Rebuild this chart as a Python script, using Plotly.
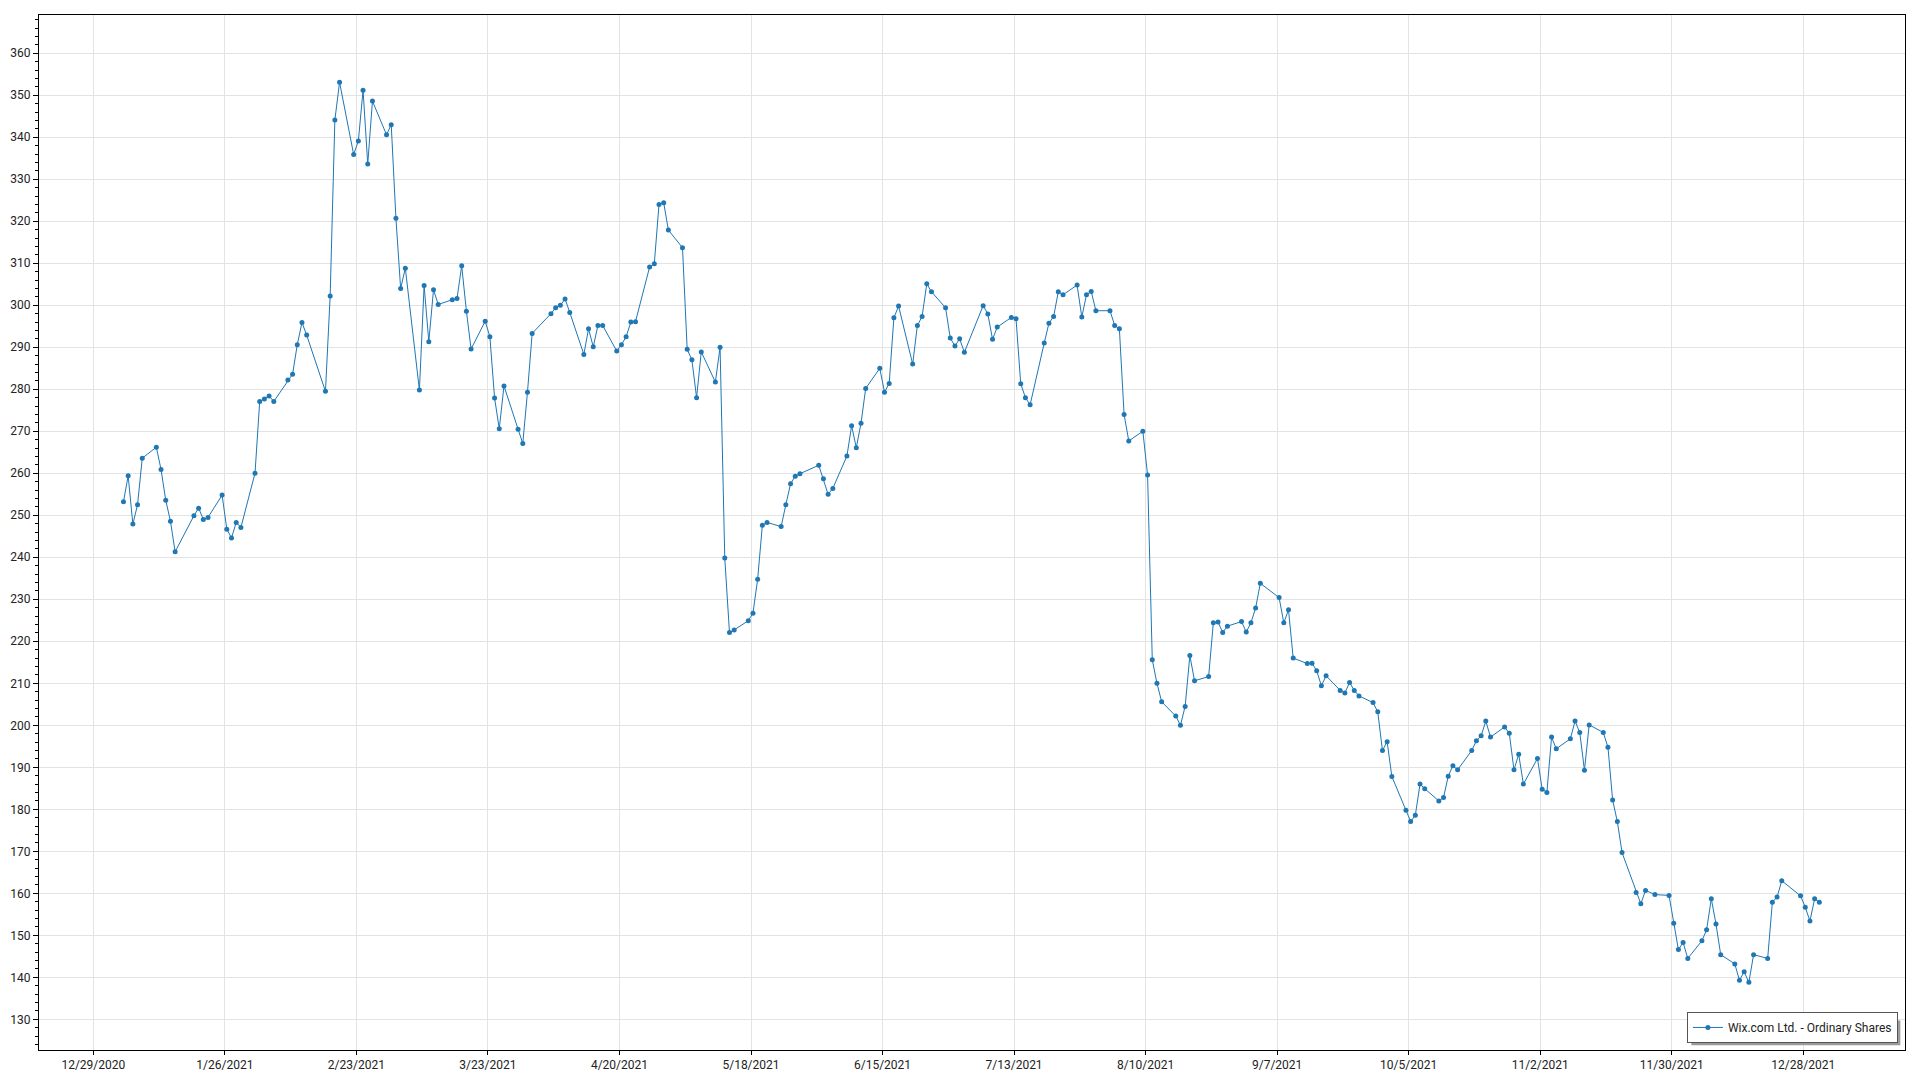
import pandas as pd
import plotly.graph_objects as go

# ---- data -------------------------------------------------------------
series_name = "Wix.com Ltd. - Ordinary Shares"

market_holidays_2021 = ["2021-01-01", "2021-01-18", "2021-02-15", "2021-04-02",
                        "2021-05-31", "2021-07-05", "2021-09-06", "2021-11-25",
                        "2021-12-24"]

jan = [253.2, 259.4, 247.9, 252.5, 263.6, 266.2, 260.9, 253.6, 248.6, 241.3,
       249.9, 251.7, 249.0, 249.5, 254.8, 246.7, 244.6, 248.3, 247.1]
feb = [260.0, 277.1, 277.7, 278.4, 277.1, 282.2, 283.6, 290.6, 295.9, 292.9,
       279.5, 302.2, 344.1, 353.1, 335.9, 339.1, 351.2, 333.6, 348.6]
mar = [340.6, 343.0, 320.7, 304.0, 308.8, 279.8, 304.7, 291.3, 303.7, 300.2,
       301.3, 301.6, 309.4, 298.6, 289.6, 296.2, 292.5, 277.9, 270.6, 280.8,
       270.5, 267.1, 279.3]
apr = [293.3, 298.0, 299.4, 300.0, 301.5, 298.3, 288.3, 294.4, 290.1, 295.2,
       295.2, 289.1, 290.6, 292.5, 296.0, 296.1, 309.1, 309.9, 324.0, 324.4,
       317.9]
may = [313.7, 289.5, 287.0, 278.0, 288.9, 281.7, 290.0, 239.8, 222.1, 222.7,
       224.9, 226.7, 234.8, 247.6, 248.3, 247.3, 252.5, 257.5, 259.3, 259.9]
jun = [261.9, 258.7, 255.0, 256.4, 264.1, 271.3, 266.1, 271.9, 280.2, 285.0,
       279.3, 281.4, 297.0, 299.8, 286.0, 295.2, 297.3, 305.1, 303.2, 299.4,
       292.2, 290.3]
jul = [292.0, 288.8, 299.9, 297.9, 291.9, 294.8, 297.1, 296.8, 281.3, 278.0,
       276.3, 291.0, 295.7, 297.3, 303.2, 302.5, 304.8, 297.2, 302.5, 303.3,
       298.7]
aug = [298.7, 295.2, 294.4, 274.0, 267.7, 270.0, 259.6, 215.6, 210.0, 205.6,
       202.2, 200.0, 204.5, 216.6, 210.6, 211.6, 224.4, 224.6, 222.1, 223.6,
       224.7, 222.2]
sep = [224.4, 227.9, 233.8, 230.4, 224.4, 227.5, 216.0, 214.7, 214.8, 213.0,
       209.4, 211.8, 208.3, 207.7, 210.2, 208.3, 207.0, 205.4, 203.2, 194.0,
       196.1]
oct_ = [187.8, 179.8, 177.1, 178.6, 186.0, 184.9, 182.0, 182.8, 187.9, 190.4,
        189.4, 194.0, 196.3, 197.5, 201.0, 197.2, 199.6, 198.1, 189.4, 193.1,
        186.0]
nov = [192.1, 184.8, 184.0, 197.2, 194.4, 196.8, 201.0, 198.3, 189.3, 200.1,
       198.3, 194.8, 182.2, 177.1, 169.7, 160.2, 157.5, 160.7, 159.7, 159.5,
       152.9]
dec = [146.6, 148.3, 144.5, 148.7, 151.3, 158.7, 152.7, 145.4, 143.2, 139.3,
       141.3, 138.8, 145.4, 144.5, 157.9, 159.1, 163.0, 159.4, 156.7, 153.4,
       158.7, 157.9]

prices = jan + feb + mar + apr + may + jun + jul + aug + sep + oct_ + nov + dec

trading_days = pd.bdate_range("2021-01-01", "2021-12-31", freq="C",
                              holidays=market_holidays_2021)
# timestamps carry an intraday hour in the source
dates = trading_days + pd.Timedelta(hours=10)
assert len(dates) == len(prices), (len(dates), len(prices))

# ---- figure -----------------------------------------------------------
FONT = "Roboto, Noto Sans, DejaVu Sans, sans-serif"
BLUE = "#1f77b4"
GRID = "#e3e3e3"

fig = go.Figure()
fig.add_trace(go.Scatter(
    x=dates, y=prices, mode="lines+markers", name=series_name,
    line=dict(color=BLUE, width=1),
    marker=dict(color=BLUE, size=5),
    showlegend=True,
))

# soft drop shadow behind the legend box (paper coordinates)
fig.add_shape(type="rect", xref="paper", yref="paper", layer="above",
              x0=0.8855, x1=0.9975, y0=0.0045, y1=0.0285,
              fillcolor="#9a9a9a", line=dict(width=0))

fig.update_layout(
    width=1920, height=1080,
    margin=dict(l=39, r=15, t=15, b=30, autoexpand=False),
    paper_bgcolor="white", plot_bgcolor="white",
    font=dict(family=FONT, size=12, color="#222222"),
    showlegend=True,
    legend=dict(
        x=0.9962, y=0.0068, xanchor="right", yanchor="bottom",
        bgcolor="white", bordercolor="#555555", borderwidth=1,
        itemwidth=30,
        font=dict(family=FONT, size=12, color="#222222"),
    ),
)

fig.update_xaxes(
    type="date", automargin=False,
    range=["2020-12-17 10:30", "2022-01-18 15:36"],
    tick0="2020-12-29", dtick=28 * 86400000,
    tickformat="%-m/%-d/%Y",
    showgrid=True, gridcolor=GRID, gridwidth=1,
    showline=True, linecolor="black", linewidth=1, mirror=True,
    ticks="outside", ticklen=4, tickcolor="black",
    zeroline=False,
)
fig.update_yaxes(
    automargin=False,
    range=[122.7, 369.1],
    tick0=130, dtick=10,
    showgrid=True, gridcolor=GRID, gridwidth=1,
    showline=True, linecolor="black", linewidth=1, mirror=True,
    ticks="outside", ticklen=5, tickcolor="black",
    minor=dict(dtick=2, ticks="outside", ticklen=3, tickcolor="black", showgrid=False),
    zeroline=False,
)

fig.write_html("out.html", config={"displayModeBar": False},
               post_script="document.body.style.margin='0';")
